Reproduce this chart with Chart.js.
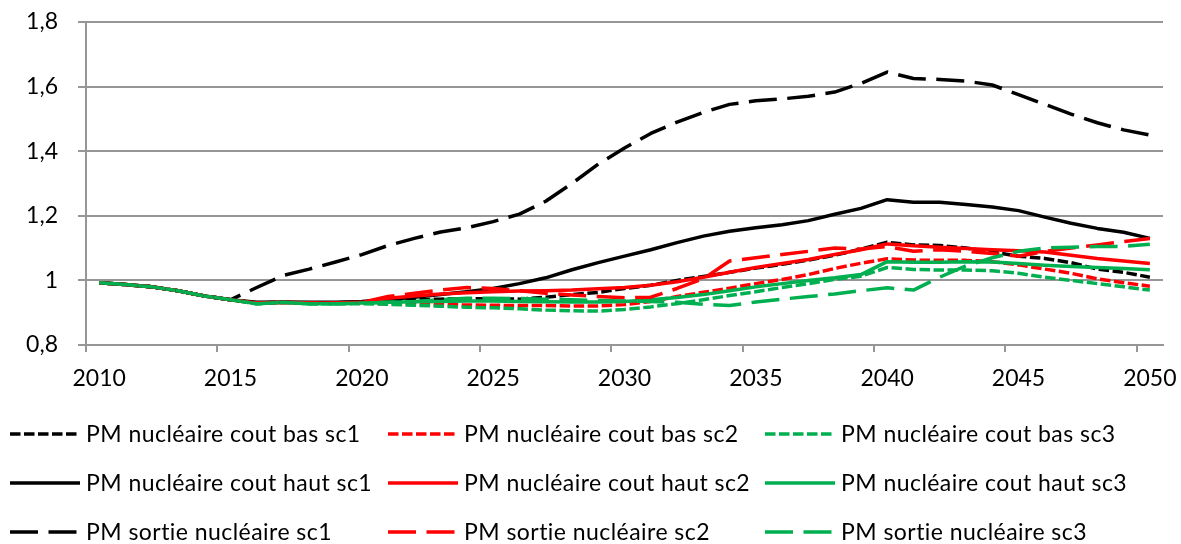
<!DOCTYPE html>
<html>
<head>
<meta charset="utf-8">
<script src="https://cdn.jsdelivr.net/npm/chart.js@4/dist/chart.umd.min.js"></script>
<style>
html,body{margin:0;padding:0;background:#fff;}
#wrap{width:1181px;height:544px;}
</style>
</head>
<body>
<div id="wrap"><canvas id="c" width="1181" height="544"></canvas></div>
<script>
const years = ['2010','2011','2012','2013','2014','2015','2016','2017','2018','2019','2020','2021','2022','2023','2024','2025','2026','2027','2028','2029','2030','2031','2032','2033','2034','2035','2036','2037','2038','2039','2040','2041','2042','2043','2044','2045','2046','2047','2048','2049','2050'];
const xTickLabels = ['2010','2015','2020','2025','2030','2035','2040','2045','2050'];
const yTickValues = [0.8, 1, 1.2, 1.4, 1.6, 1.8];
const yTickLabels = ['0,8', '1', '1,2', '1,4', '1,6', '1,8'];

const seriesNames = [
  'PM nucléaire cout bas sc1', 'PM nucléaire cout bas sc2', 'PM nucléaire cout bas sc3',
  'PM nucléaire cout haut sc1', 'PM nucléaire cout haut sc2', 'PM nucléaire cout haut sc3',
  'PM sortie nucléaire sc1', 'PM sortie nucléaire sc2', 'PM sortie nucléaire sc3'
];

const coutBasSc1 = [0.993,0.987,0.98,0.968,0.952,0.94,0.93,0.932,0.93,0.93,0.933,0.937,0.94,0.942,0.943,0.943,0.942,0.948,0.956,0.963,0.975,0.985,1.0,1.012,1.025,1.038,1.05,1.063,1.078,1.097,1.118,1.11,1.108,1.1,1.088,1.075,1.068,1.055,1.035,1.025,1.01];
const coutBasSc2 = [0.993,0.987,0.98,0.968,0.952,0.94,0.93,0.932,0.93,0.93,0.93,0.928,0.926,0.925,0.924,0.923,0.922,0.922,0.921,0.921,0.925,0.935,0.95,0.963,0.976,0.99,1.003,1.018,1.037,1.053,1.067,1.063,1.062,1.062,1.058,1.048,1.035,1.022,1.005,0.993,0.982];
const coutBasSc3 = [0.993,0.987,0.98,0.968,0.952,0.94,0.928,0.932,0.928,0.928,0.928,0.926,0.923,0.92,0.917,0.915,0.912,0.908,0.906,0.905,0.91,0.918,0.928,0.94,0.953,0.965,0.978,0.99,1.003,1.013,1.04,1.034,1.032,1.032,1.03,1.022,1.01,1.0,0.99,0.98,0.97];
const coutHautSc1 = [0.993,0.987,0.98,0.968,0.952,0.94,0.932,0.933,0.932,0.932,0.935,0.941,0.948,0.956,0.965,0.975,0.99,1.008,1.033,1.055,1.075,1.095,1.117,1.137,1.152,1.163,1.172,1.185,1.205,1.223,1.25,1.242,1.242,1.235,1.227,1.216,1.196,1.177,1.161,1.149,1.13];
const coutHautSc2 = [0.993,0.987,0.98,0.968,0.952,0.94,0.93,0.932,0.93,0.93,0.932,0.945,0.952,0.958,0.962,0.965,0.967,0.968,0.97,0.974,0.978,0.985,0.996,1.01,1.025,1.04,1.052,1.065,1.08,1.095,1.113,1.107,1.103,1.099,1.095,1.092,1.088,1.078,1.068,1.06,1.052];
const coutHautSc3 = [0.993,0.987,0.98,0.968,0.952,0.94,0.928,0.932,0.928,0.928,0.93,0.932,0.934,0.935,0.936,0.936,0.935,0.934,0.933,0.933,0.935,0.94,0.947,0.956,0.968,0.98,0.99,1.0,1.008,1.018,1.058,1.056,1.056,1.058,1.057,1.052,1.047,1.043,1.04,1.037,1.033];
const sortieSc1 = [0.993,0.987,0.98,0.968,0.952,0.94,0.978,1.015,1.035,1.057,1.08,1.108,1.13,1.15,1.163,1.182,1.205,1.245,1.3,1.36,1.41,1.455,1.49,1.52,1.545,1.556,1.562,1.57,1.583,1.61,1.645,1.625,1.622,1.617,1.605,1.575,1.545,1.515,1.488,1.466,1.45];
const sortieSc2 = [0.993,0.987,0.98,0.968,0.952,0.94,0.93,0.932,0.93,0.93,0.932,0.95,0.96,0.97,0.978,0.975,0.968,0.96,0.955,0.95,0.946,0.948,0.975,1.005,1.06,1.07,1.08,1.09,1.1,1.097,1.105,1.09,1.095,1.09,1.083,1.075,1.09,1.1,1.11,1.12,1.13];
const sortieSc3 = [0.993,0.987,0.98,0.968,0.952,0.94,0.928,0.932,0.928,0.928,0.93,0.932,0.935,0.94,0.945,0.945,0.944,0.942,0.94,0.938,0.936,0.935,0.932,0.926,0.922,0.933,0.942,0.95,0.958,0.968,0.977,0.97,1.01,1.045,1.07,1.09,1.1,1.103,1.105,1.105,1.112];

const seriesValues = [coutBasSc1, coutBasSc2, coutBasSc3, coutHautSc1, coutHautSc2, coutHautSc3, sortieSc1, sortieSc2, sortieSc3];

const BLACK = '#000000', RED = '#FF0000', GREEN = '#00B050';
const colors = [BLACK, RED, GREEN];
const SHORT = [10.5, 3.5], LONG = [28, 10.5], SOLID = [];
const dashes = [SHORT, SOLID, LONG];
const FONT = {family: 'Lato', size: 23};
const GRID = '#969696';

const datasets = seriesValues.map((vals, i) => ({
  label: seriesNames[i],
  data: vals,
  borderColor: colors[i % 3],
  backgroundColor: colors[i % 3],
  borderDash: dashes[Math.floor(i / 3)],
  borderWidth: 3.5,
  borderCapStyle: 'butt',
  borderJoinStyle: 'round',
  pointRadius: 0,
  pointHoverRadius: 0,
  tension: 0,
  fill: false,
  order: seriesValues.length - i
}));

const legendPlugin = {
  id: 'gridLegend',
  afterDraw(chart, args, opts) {
    const ctx = chart.ctx;
    ctx.save();
    chart.data.datasets.forEach((ds, i) => {
      const col = i % 3, row = Math.floor(i / 3);
      const x = opts.colX[col], y = opts.rowY[row];
      ctx.beginPath();
      ctx.setLineDash(ds.borderDash || []);
      ctx.lineDashOffset = 0;
      ctx.strokeStyle = ds.borderColor;
      ctx.lineWidth = ds.borderWidth;
      ctx.lineCap = 'butt';
      ctx.moveTo(x, y);
      ctx.lineTo(x + opts.sampleLen, y);
      ctx.stroke();
      ctx.setLineDash([]);
      ctx.fillStyle = '#000';
      ctx.font = FONT.size + 'px ' + FONT.family;
      ctx.textBaseline = 'middle';
      ctx.textAlign = 'left';
      if ('letterSpacing' in ctx) ctx.letterSpacing = opts.letterSpacing;
      ctx.fillText(ds.label, x + opts.sampleLen + opts.gap, y + opts.textDy);
      if ('letterSpacing' in ctx) ctx.letterSpacing = '0px';
    });
    ctx.restore();
  }
};

new Chart(document.getElementById('c'), {
  type: 'line',
  data: { labels: years, datasets },
  plugins: [legendPlugin],
  options: {
    responsive: false,
    devicePixelRatio: 1,
    animation: false,
    events: [],
    layout: { padding: { left: 0, top: 22, right: 18, bottom: 149 } },
    plugins: {
      legend: { display: false },
      tooltip: { enabled: false },
      gridLegend: { colX: [10, 388, 765], rowY: [434, 483, 532], sampleLen: 70, gap: 6, textDy: 1, letterSpacing: '0.45px' }
    },
    scales: {
      x: {
        type: 'category',
        offset: true,
        grid: {
          offset: true,
          drawOnChartArea: false,
          drawTicks: true,
          tickLength: 7,
          lineWidth: 2,
          color: GRID,
          tickColor: (c) => (c.tick && c.index % 5 === 0 ? GRID : 'rgba(0,0,0,0)')
        },
        border: { display: true, color: GRID, width: 2 },
        ticks: {
          autoSkip: false,
          maxRotation: 0,
          minRotation: 0,
          padding: 13,
          color: '#000',
          font: FONT,
          callback: function(value) {
            const l = this.getLabelForValue(value);
            return xTickLabels.includes(l) ? l : '';
          }
        },
        afterFit: (s) => { s.height = 50; s.paddingLeft = 0; s.paddingRight = 0; }
      },
      y: {
        min: 0.8,
        max: 1.8,
        grid: { color: GRID, lineWidth: 2, tickLength: 8, drawTicks: true },
        border: { display: true, color: GRID, width: 2 },
        ticks: {
          stepSize: 0.2,
          padding: 20,
          color: '#000',
          font: FONT,
          callback: (v) => {
            let best = 0;
            yTickValues.forEach((t, k) => { if (Math.abs(t - v) < Math.abs(yTickValues[best] - v)) best = k; });
            return yTickLabels[best];
          }
        },
        afterFit: (s) => { s.width = 86; s.paddingTop = 0; s.paddingBottom = 0; }
      }
    }
  }
});
</script>
</body>
</html>
